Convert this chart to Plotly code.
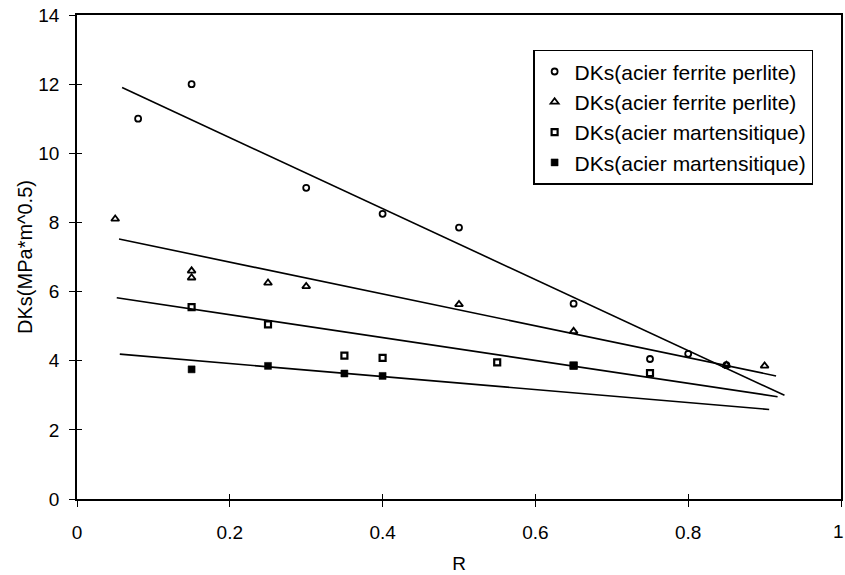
import plotly.graph_objects as go

# ---- data ----
fp1_x = [0.08, 0.15, 0.30, 0.40, 0.50, 0.65, 0.75, 0.80, 0.85]
fp1_y = [11.0, 12.0, 9.0, 8.25, 7.85, 5.65, 4.05, 4.2, 3.87]

fp2_x = [0.05, 0.15, 0.15, 0.25, 0.30, 0.50, 0.65, 0.85, 0.90]
fp2_y = [8.1, 6.6, 6.4, 6.25, 6.15, 5.63, 4.85, 3.87, 3.85]

ma1_x = [0.15, 0.25, 0.35, 0.40, 0.55, 0.65, 0.75]
ma1_y = [5.55, 5.05, 4.15, 4.08, 3.95, 3.86, 3.64]

ma2_x = [0.15, 0.25, 0.35, 0.40, 0.65]
ma2_y = [3.75, 3.85, 3.63, 3.56, 3.86]

# trend-line end points
trend_fp1_x = [0.059, 0.926]
trend_fp1_y = [11.9, 3.0]
trend_fp2_x = [0.055, 0.915]
trend_fp2_y = [7.52, 3.56]
trend_ma1_x = [0.052, 0.917]
trend_ma1_y = [5.82, 2.96]
trend_ma2_x = [0.056, 0.906]
trend_ma2_y = [4.19, 2.59]

names = ["DKs(acier ferrite perlite)", "DKs(acier ferrite perlite)",
         "DKs(acier martensitique)", "DKs(acier martensitique)"]

x_ticks = [0, 0.2, 0.4, 0.6, 0.8, 1]
x_ticktext = ["0", "0.2", "0.4", "0.6", "0.8", "1"]
y_ticks = [0, 2, 4, 6, 8, 10, 12, 14]

FONT = "Arial, Liberation Sans, sans-serif"

fig = go.Figure()

# trend lines
for tx, ty in [(trend_fp1_x, trend_fp1_y), (trend_fp2_x, trend_fp2_y),
               (trend_ma1_x, trend_ma1_y), (trend_ma2_x, trend_ma2_y)]:
    fig.add_trace(go.Scatter(x=tx, y=ty, mode="lines",
                             line=dict(color="black", width=1.6),
                             showlegend=False, hoverinfo="skip"))

fig.add_trace(go.Scatter(x=fp1_x, y=fp1_y, mode="markers", name=names[0],
                         marker=dict(symbol="circle-open", size=6, color="black",
                                     line=dict(width=1.8, color="black"))))
fig.add_trace(go.Scatter(x=fp2_x, y=fp2_y, mode="markers", name=names[1],
                         marker=dict(symbol="triangle-up-open", size=7, color="black",
                                     line=dict(width=1.8, color="black"))))
fig.add_trace(go.Scatter(x=ma1_x, y=ma1_y, mode="markers", name=names[2],
                         marker=dict(symbol="square-open", size=6, color="black",
                                     line=dict(width=2.2, color="black"))))
fig.add_trace(go.Scatter(x=ma2_x, y=ma2_y, mode="markers", name=names[3],
                         marker=dict(symbol="square", size=7, color="black",
                                     line=dict(width=0.5, color="black"))))

# overlay axes providing the inner half of the cross ticks
fig.add_trace(go.Scatter(x=[x_ticks[0]], y=[y_ticks[0]], xaxis="x2", yaxis="y2",
                         mode="markers", marker=dict(size=1, opacity=0),
                         showlegend=False, hoverinfo="skip"))

fig.update_layout(
    width=845, height=575,
    margin=dict(l=77, r=4, t=15, b=76, autoexpand=False),
    paper_bgcolor="white", plot_bgcolor="white",
    font=dict(family=FONT, color="black", size=19),
    xaxis=dict(range=[0, 1], tickvals=x_ticks, ticktext=x_ticktext,
               automargin=False,
               showgrid=False, zeroline=False, showline=True, linecolor="black",
               linewidth=1.6, mirror=True, ticks="outside", ticklen=6,
               tickwidth=1, tickcolor="black", tickfont=dict(size=19),
               ticklabelstandoff=9,
               title=dict(text="R", font=dict(size=19), standoff=15)),
    yaxis=dict(range=[0, 14], tickvals=y_ticks, automargin=False,
               showgrid=False, zeroline=False, showline=True, linecolor="black",
               linewidth=1.6, mirror=True, ticks="outside", ticklen=6,
               tickwidth=1, tickcolor="black", tickfont=dict(size=19),
               ticklabelstandoff=6,
               title=dict(text="DKs(MPa*m^0.5)", font=dict(size=20), standoff=0)),
    xaxis2=dict(range=[0, 1], tickvals=x_ticks, overlaying="x", side="bottom",
                automargin=False, anchor="y2",
                showgrid=False, zeroline=False, showline=False, ticks="inside",
                ticklen=5, tickwidth=1, tickcolor="black", showticklabels=False),
    yaxis2=dict(range=[0, 14], tickvals=y_ticks, overlaying="y", side="left",
                automargin=False, anchor="x2",
                showgrid=False, zeroline=False, showline=False, ticks="inside",
                ticklen=5, tickwidth=1, tickcolor="black", showticklabels=False),
    legend=dict(x=0.597, y=0.928, xanchor="left", yanchor="top",
                bgcolor="white", bordercolor="black", borderwidth=1.5,
                font=dict(size=21, family=FONT), tracegroupgap=0,
                itemsizing="trace"),
    showlegend=True,
)

# the last x tick label sits on the page edge; draw it as an annotation
fig.add_annotation(x=x_ticks[-1], y=0, xref="x", yref="paper",
                   text=x_ticktext[-1], showarrow=False, yanchor="top",
                   xanchor="right", xshift=4, borderpad=0,
                   yshift=-21, font=dict(size=19, family=FONT, color="black"))

fig.write_html("out.html")
